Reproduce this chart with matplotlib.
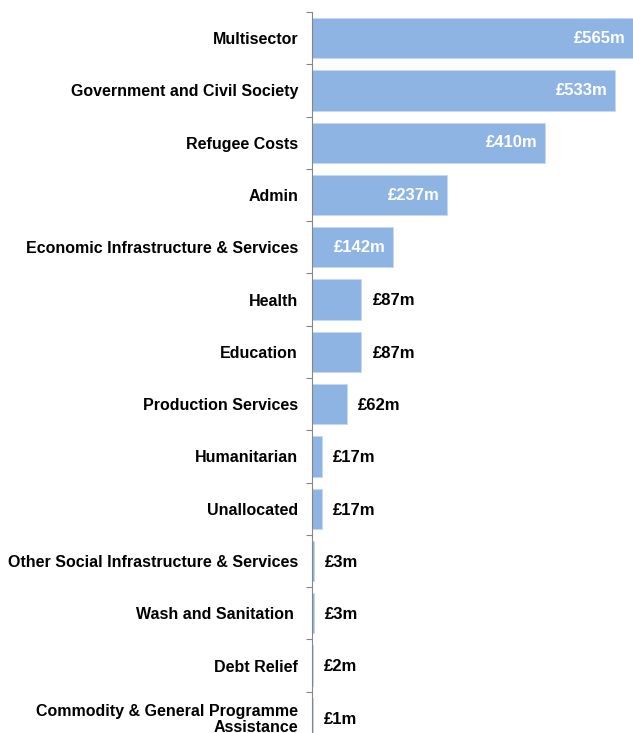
import matplotlib.pyplot as plt
import numpy as np

categories = ['Multisector', 'Government and Civil Society', 'Refugee Costs', 'Admin',
              'Economic Infrastructure & Services', 'Health', 'Education',
              'Production Services', 'Humanitarian', 'Unallocated',
              'Other Social Infrastructure & Services', 'Wash and Sanitation ',
              'Debt Relief', 'Commodity & General Programme\nAssistance']
values = [565, 533, 410, 237, 142, 87, 87, 62, 17, 17, 3, 3, 2, 1]
labels = ['£565m', '£533m', '£410m', '£237m', '£142m', '£87m', '£87m', '£62m',
          '£17m', '£17m', '£3m', '£3m', '£2m', '£1m']

plt.rcParams['font.family'] = ['Liberation Sans', 'DejaVu Sans']

fig = plt.figure(figsize=(6.33, 7.33), dpi=100)
ax = fig.add_axes([312 / 633, 1 - 744 / 733, 321 / 633, 732 / 733])

y = np.arange(len(categories))
ax.barh(y, values, height=0.77, color='#8EB4E3', edgecolor='#C5D8F0', linewidth=0.6)

for i, (v, lab) in enumerate(zip(values, labels)):
    if v > 100:
        ax.annotate(lab, (v, i), xytext=(-5, 0), textcoords='offset points',
                    ha='right', va='center', color='white', fontsize=12, fontweight='bold')
    else:
        ax.annotate(lab, (v, i), xytext=(8, -1), textcoords='offset points',
                    ha='left', va='center', color='black', fontsize=12, fontweight='bold')

ax.set_xlim(0, 565)
ax.set_ylim(len(categories) - 0.5, -0.5)
ax.set_yticks(y)
ax.set_yticklabels(categories, fontsize=11.5, fontweight='bold', linespacing=1.05)
ax.set_yticks(np.arange(len(categories) + 1) - 0.5, minor=True)
ax.tick_params(axis='y', which='major', length=0, pad=10)
ax.tick_params(axis='y', which='minor', length=4, color='#868686', width=0.8)
ax.set_xticks([])
for s in ['top', 'right', 'bottom']:
    ax.spines[s].set_visible(False)
ax.spines['left'].set_color('#868686')
ax.spines['left'].set_linewidth(0.8)

fig.savefig('out.png', dpi=100)
